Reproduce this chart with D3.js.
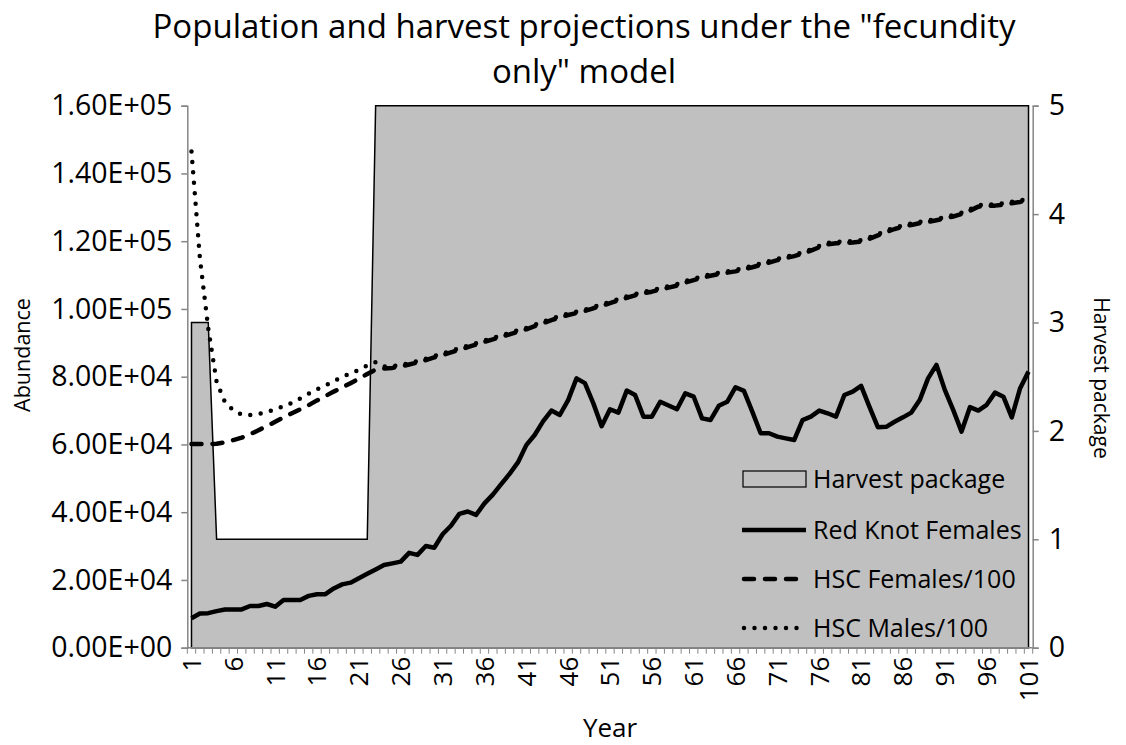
<!DOCTYPE html>
<html>
<head>
<meta charset="utf-8">
<script src="https://cdn.jsdelivr.net/npm/d3@7"></script>
<style>
  body { margin: 0; background: #fff; }
  svg { display: block; font-family: 'Open Sans', sans-serif; }
</style>
</head>
<body>
<script>
// Years 1..101
const years = d3.range(1, 102);

// Harvest package (right axis)
const harvest = [3, 3, 3,
  1, 1, 1, 1, 1, 1, 1, 1, 1, 1, 1, 1, 1, 1, 1, 1, 1, 1, 1,
  5, 5, 5, 5, 5, 5, 5, 5, 5, 5, 5, 5, 5, 5, 5, 5, 5, 5, 5, 5,
  5, 5, 5, 5, 5, 5, 5, 5, 5, 5, 5, 5, 5, 5, 5, 5, 5, 5, 5, 5,
  5, 5, 5, 5, 5, 5, 5, 5, 5, 5, 5, 5, 5, 5, 5, 5, 5, 5, 5, 5,
  5, 5, 5, 5, 5, 5, 5, 5, 5, 5, 5, 5, 5, 5, 5, 5, 5, 5, 5];

const redKnotFemales = [
  8700, 10100, 10200, 10800, 11300, 11300, 11300, 12300, 12300, 12900,
  12100, 14100, 14100, 14100, 15300, 15800, 15800, 17500, 18700, 19200,
  20500, 21800, 23100, 24400, 24900, 25400, 28000, 27400, 30000, 29500,
  33500, 36000, 39500, 40200, 39200, 42600, 45200, 48300, 51300, 54700,
  59800, 62800, 66800, 70000, 68700, 73100, 79500, 78100, 72200, 65400,
  70400, 69400, 75900, 74600, 68200, 68200, 72600, 71500, 70400, 75100,
  74100, 67700, 67200, 71400, 72600, 76900, 75800, 69700, 63300, 63300,
  62300, 61800, 61300, 67200, 68200, 70000, 69200, 68200, 74600, 75600,
  77300, 71100, 65100, 65200, 66700, 68000, 69400, 73100, 79500, 83500,
  76100, 70200, 63800, 71000, 70000, 71700, 75300, 74100, 68000, 76600,
  81500];

const hscFemales = [
  60100, 60100, 60100, 60200, 60600, 61300, 62000, 63000, 64200, 65400,
  66700, 68000, 69200, 70400, 71600, 73000, 74300, 75600, 76800, 78100,
  79400, 80800, 82100, 82400, 82600, 83000, 83600, 84200, 84900, 85700,
  86400, 87200, 88000, 88700, 89500, 90300, 91000, 91800, 92500, 93300,
  94000, 94900, 95800, 96700, 97500, 98200, 98800, 99400, 100200, 100900,
  101700, 102500, 103300, 104000, 104600, 105100, 105700, 106300, 106900, 107800,
  108500, 109200, 109800, 110300, 110700, 111100, 111700, 112300, 113000, 113700,
  114400, 115000, 115600, 116300, 117200, 118200, 119100, 119400, 119500, 119600,
  119900, 120700, 121700, 122700, 123600, 124300, 124800, 125300, 125700, 126200,
  126700, 127300, 128000, 129000, 130200, 130400, 130500, 130800, 131200, 131600,
  132200];

const hscMales = [
  146500, 115100, 94300, 78500, 72500, 70100, 68800, 68700, 69000, 69600,
  70300, 71300, 72300, 73600, 75000, 76300, 77400, 78700, 79900, 81000,
  82000, 83300, 84300, 83000, 83100, 83400, 84000, 84600, 85300, 86100,
  86800, 87600, 88400, 89100, 89900, 90700, 91400, 92200, 92900, 93700,
  94400, 95300, 96200, 97100, 97900, 98600, 99200, 99800, 100600, 101300,
  102100, 102900, 103700, 104400, 105000, 105500, 106100, 106700, 107300, 108200,
  108900, 109600, 110200, 110700, 111100, 111500, 112100, 112700, 113400, 114100,
  114800, 115400, 116000, 116700, 117600, 118600, 119500, 119800, 119900, 120000,
  120300, 121100, 122100, 123100, 124000, 124700, 125200, 125700, 126100, 126600,
  127100, 127700, 128400, 129400, 130600, 130800, 130900, 131200, 131600, 132000,
  132600];

const leftTicks = [0, 20000, 40000, 60000, 80000, 100000, 120000, 140000, 160000];
const rightTicks = [0, 1, 2, 3, 4, 5];
const xLabels = [1, 6, 11, 16, 21, 26, 31, 36, 41, 46, 51, 56, 61, 66, 71, 76, 81, 86, 91, 96, 101];

const titleLines = ['Population and harvest projections under the "fecundity', 'only" model'];
const legendNames = ['Harvest package', 'Red Knot Females', 'HSC Females/100', 'HSC Males/100'];

// layout
const W = 1126, H = 745;
const plot = { left: 187.3, right: 1032.7, top: 105.7, bottom: 647.7 };
const axisGray = '#868686';
const areaGray = '#c0c0c0';

const svg = d3.select('body').append('svg')
  .attr('width', W)
  .attr('height', H);

// scales
const x = d3.scaleBand().domain(years).range([plot.left, plot.right]).padding(0);
const cx = d => x(d) + x.bandwidth() / 2;
const yL = d3.scaleLinear().domain([0, 160000]).range([plot.bottom, plot.top]);
const yR = d3.scaleLinear().domain([0, 5]).range([plot.bottom, plot.top]);

const sci = v => {
  if (v === 0) return '0.00E+00';
  const e = Math.floor(Math.log10(v));
  return (v / Math.pow(10, e)).toFixed(2) + 'E+' + String(e).padStart(2, '0');
};

// Harvest package area
const area = d3.area()
  .x((d, i) => cx(years[i]))
  .y0(yR(0))
  .y1(d => yR(d));

svg.append('path')
  .datum(harvest)
  .attr('d', area)
  .attr('fill', areaGray)
  .attr('stroke', '#000')
  .attr('stroke-width', 1.5)
  .attr('stroke-linejoin', 'miter');

// lines
const line = d3.line().x((d, i) => cx(years[i])).y(d => yL(d));

const series = [
  { data: redKnotFemales, dash: null },
  { data: hscFemales, dash: '10,11' },
  { data: hscMales, dash: '0,10.5' }
];
const styleLine = (sel, s) => {
  sel.attr('fill', 'none')
    .attr('stroke', '#000')
    .attr('stroke-width', 4.5)
    .attr('stroke-linejoin', 'round')
    .attr('stroke-linecap', s.dash ? 'round' : 'butt');
  if (s.dash) sel.attr('stroke-dasharray', s.dash);
};
series.forEach(s => {
  svg.append('path').datum(s.data).attr('d', line).call(styleLine, s);
});

// Left axis
const yAxisL = d3.axisLeft(yL).tickValues(leftTicks).tickSize(6).tickPadding(9).tickFormat(sci);
const gL = svg.append('g').attr('transform', `translate(${plot.left},0)`).call(yAxisL);

// Right axis
const yAxisR = d3.axisRight(yR).tickValues(rightTicks).tickSize(6).tickPadding(10).tickFormat(d3.format('d'));
const gR = svg.append('g').attr('transform', `translate(${plot.right},0)`).call(yAxisR);

[gL, gR].forEach(g => {
  g.select('.domain').attr('stroke', axisGray).attr('stroke-width', 1.5);
  g.selectAll('.tick line').attr('stroke', axisGray).attr('stroke-width', 1.5);
  g.selectAll('.tick text').attr('fill', '#000').style('font-size', '28.5px').style('font-family', "'Open Sans', sans-serif");
});

// Bottom axis: ticks at category boundaries, labels every 5 years
const gB = svg.append('g');
gB.append('line')
  .attr('x1', plot.left).attr('x2', plot.right)
  .attr('y1', plot.bottom).attr('y2', plot.bottom)
  .attr('stroke', axisGray).attr('stroke-width', 1.5);
gB.selectAll('line.tk')
  .data(years.concat([102]))
  .enter().append('line')
  .attr('class', 'tk')
  .attr('x1', d => d <= 101 ? x(d) : plot.right)
  .attr('x2', d => d <= 101 ? x(d) : plot.right)
  .attr('y1', plot.bottom)
  .attr('y2', plot.bottom + 6)
  .attr('stroke', axisGray)
  .attr('stroke-width', 1);
gB.selectAll('text')
  .data(xLabels)
  .enter().append('text')
  .attr('transform', d => `translate(${cx(d)},${plot.bottom + 9}) rotate(-90)`)
  .attr('text-anchor', 'end')
  .attr('dy', '0.36em')
  .style('font-size', '26px')
  .text(d => d);

// Axis titles
svg.append('text')
  .attr('transform', `translate(22,355) rotate(-90)`)
  .attr('text-anchor', 'middle')
  .attr('dy', '0.35em')
  .style('font-size', '21.5px')
  .text('Abundance');

svg.append('text')
  .attr('transform', `translate(1101,378) rotate(90)`)
  .attr('text-anchor', 'middle')
  .attr('dy', '0.35em')
  .style('font-size', '21px')
  .text('Harvest package');

svg.append('text')
  .attr('x', 610)
  .attr('y', 737)
  .attr('text-anchor', 'middle')
  .style('font-size', '26px')
  .text('Year');

// Title
svg.selectAll('text.title')
  .data(titleLines)
  .enter().append('text')
  .attr('class', 'title')
  .attr('x', 584)
  .attr('y', (d, i) => 38 + i * 45)
  .attr('text-anchor', 'middle')
  .style('font-size', '33px')
  .text(d => d);

// Legend
const leg = svg.append('g').attr('id', 'legend');
const legY = [479, 530, 579, 628];
const legX0 = 742, legX1 = 806, legText = 813;

leg.append('rect')
  .attr('x', legX0 + 1).attr('y', legY[0] - 8)
  .attr('width', legX1 - legX0 - 1).attr('height', 16)
  .attr('fill', areaGray)
  .attr('stroke', '#000')
  .attr('stroke-width', 1.2);

series.forEach((s, i) => {
  leg.append('line')
    .attr('x1', legX0 + (s.dash ? 2 : 0)).attr('x2', legX1)
    .attr('y1', legY[i + 1]).attr('y2', legY[i + 1])
    .call(styleLine, s);
});

leg.selectAll('text')
  .data(legendNames)
  .enter().append('text')
  .attr('x', legText)
  .attr('y', (d, i) => legY[i])
  .attr('dy', '0.35em')
  .style('font-size', '25px')
  .text(d => d);
</script>
</body>
</html>
